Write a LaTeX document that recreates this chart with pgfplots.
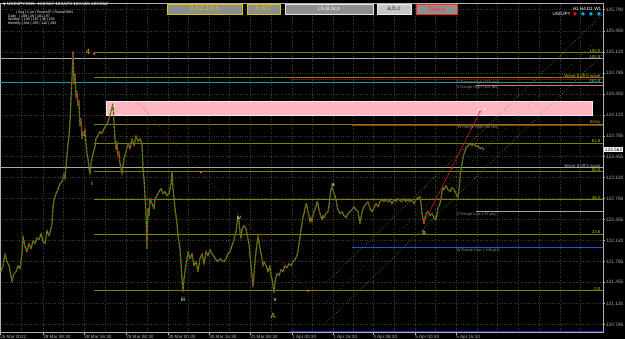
\documentclass[border=0pt]{standalone}
\usepackage{pgfplots}
\pgfplotsset{compat=1.18}
\usepackage{pgfplotstable}
\usepackage{fontspec}
\setmainfont{Liberation Sans}
\newfontfamily\dejavu{DejaVu Sans}
\definecolor{olv}{HTML}{808000}
\definecolor{olvtxt}{HTML}{BDBD00}
\definecolor{gridc}{HTML}{3A3A3A}
\definecolor{axc}{HTML}{B0B0B0}
\definecolor{bull}{HTML}{1FB01F}
\definecolor{bear}{HTML}{C01E1E}
\definecolor{greyl}{HTML}{A8A8A8}
\definecolor{tealc}{HTML}{1E9A9A}
\definecolor{dred}{HTML}{800000}
\definecolor{salm}{HTML}{E07070}
\definecolor{brn}{HTML}{A0301E}
\definecolor{steel}{HTML}{8CA8B8}
\definecolor{wblue}{HTML}{2F4FE0}
\definecolor{mblue}{HTML}{2030C0}
\definecolor{pinkb}{HTML}{FFB6C1}
\definecolor{chan}{HTML}{2EB82E}
\definecolor{yel}{HTML}{D8C800}
\definecolor{txtg}{HTML}{8C8C8C}
\definecolor{btn}{HTML}{8E8E8E}
\pgfplotstableread{
x p
1 121.624
3 121.719
5 121.910
7 121.783
9 121.719
11 121.560
12 121.465
14 121.592
16 121.624
18 121.719
20 121.672
22 121.910
23 122.180
25 122.021
27 121.942
29 122.069
31 121.990
33 122.117
35 122.069
37 122.164
39 122.133
41 122.228
43 122.101
45 122.069
47 122.276
49 122.196
51 122.308
52 122.387
53 122.657
54 122.769
56 122.864
58 122.928
60 123.023
62 123.055
64 123.182
65 123.103
66 123.309
67 123.468
68 123.659
69 123.786
70 124.009
71 124.375
72 124.693
73 125.122
74 124.613
75 124.772
76 124.406
77 124.486
78 124.263
79 124.327
80 123.945
81 124.057
82 123.739
83 123.850
84 123.786
85 123.882
86 123.659
87 123.500
88 123.421
89 123.262
90 123.182
91 123.341
93 123.500
95 123.611
96 123.739
98 123.786
100 123.850
102 123.818
104 123.898
106 123.945
108 124.009
110 124.104
112 124.231
113 124.295
114 123.977
115 123.739
116 123.580
117 123.691
118 123.468
119 123.532
120 123.341
121 123.262
122 123.182
123 123.309
124 123.421
126 123.532
128 123.659
130 123.580
132 123.739
134 123.627
136 123.786
138 123.691
140 123.739
142 123.659
143 123.262
144 123.103
145 122.832
146 122.546
147 121.990
148 122.626
149 122.514
150 122.785
152 122.705
154 122.626
155 122.785
157 122.832
159 122.896
161 122.944
163 122.864
165 122.896
167 122.832
169 122.864
171 123.023
172 123.214
173 122.944
174 122.785
175 122.626
176 122.514
177 122.387
178 122.196
180 121.990
181 121.751
182 121.513
183 121.306
184 121.513
185 121.624
187 121.831
188 121.942
190 121.831
192 121.910
194 121.719
196 121.783
198 121.624
200 121.831
202 121.910
204 121.751
206 121.942
208 121.878
210 121.974
212 121.910
214 121.862
216 121.815
218 121.783
220 121.831
222 121.799
224 121.783
226 121.831
228 121.910
230 121.942
232 122.037
234 122.133
236 122.260
237 122.387
238 122.482
239 122.419
240 122.260
241 122.164
242 122.292
244 122.355
246 122.308
247 122.228
248 122.149
249 122.069
250 121.878
251 121.719
252 121.560
253 121.385
254 121.592
255 121.783
256 121.942
257 122.069
258 122.196
259 122.101
260 121.990
262 121.831
263 121.719
264 121.783
266 121.719
268 121.624
270 121.719
271 121.560
272 121.513
273 121.401
274 121.290
275 121.465
277 121.592
279 121.560
281 121.656
283 121.624
285 121.719
287 121.687
289 121.751
291 121.719
293 121.783
295 121.815
297 121.878
298 121.958
299 122.069
300 122.164
301 122.292
302 122.387
303 122.482
304 122.546
305 122.626
306 122.705
307 122.673
308 122.578
309 122.514
310 122.419
311 122.482
312 122.419
313 122.514
314 122.578
316 122.657
317 122.737
318 122.705
319 122.610
320 122.546
322 122.451
323 122.514
324 122.482
326 122.546
328 122.578
329 122.673
330 122.832
331 122.928
332 122.975
333 122.928
334 122.864
335 122.832
336 122.769
337 122.673
338 122.610
340 122.546
342 122.578
344 122.514
346 122.482
348 122.546
350 122.578
352 122.610
354 122.657
356 122.610
358 122.578
359 122.482
360 122.387
361 122.482
362 122.578
364 122.657
366 122.705
368 122.737
370 122.626
372 122.578
374 122.641
376 122.705
378 122.657
380 122.737
382 122.769
384 122.737
386 122.769
388 122.737
390 122.753
392 122.705
394 122.769
396 122.737
398 122.785
400 122.753
402 122.737
404 122.785
406 122.737
408 122.769
410 122.737
412 122.769
414 122.705
416 122.769
418 122.800
420 122.816
421 122.705
422 122.546
423 122.467
424 122.403
425 122.482
426 122.546
428 122.578
430 122.514
432 122.546
434 122.482
436 122.451
437 122.546
438 122.641
440 122.705
441 122.800
442 122.896
443 122.959
444 122.928
446 122.991
448 122.928
450 122.896
452 122.959
454 122.928
456 122.864
458 122.800
459 122.928
460 123.118
461 123.246
462 123.341
463 123.436
464 123.500
465 123.532
466 123.595
468 123.627
470 123.659
472 123.627
474 123.659
476 123.611
478 123.627
480 123.580
482 123.595
484 123.564
}\price
\begin{document}
\begin{tikzpicture}[x=1pt,y=1pt]
\fill[black] (0,0) rectangle (625,339);
\useasboundingbox (0,0) rectangle (625,339);
\begin{axis}[
  at={(0,10)}, anchor=south west,
  scale only axis, width=603pt, height=329pt,
  xmin=0, xmax=603, ymin=120.654, ymax=125.885,
  clip=false,
  axis line style={draw=axc, line width=0.5pt},
  tick style={draw=axc, line width=0.4pt},
  tick align=outside, major tick length=2pt, minor tick length=0pt,
  xtick pos=bottom, ytick pos=right, yticklabel pos=right,
  xtick={0,43,84,126,168,209,250,292,333,373,415,456},
  xticklabels={25 Mar 2022,28 Mar 08:30,28 Mar 16:30,29 Mar 08:30,30 Mar 00:30,30 Mar 16:30,31 Mar 08:30,1 Apr 00:30,1 Apr 16:30,4 Apr 08:30,5 Apr 00:30,5 Apr 16:30},
  xticklabel style={anchor=north west, font=\fontsize{4.6}{5}\selectfont, text=axc, inner sep=0.6pt, xshift=-0.5pt},
  minor xtick={21.5,63.5,105,147,188.5,229.5,271,312.5,353,394,435.5,477,497,518,539,560,580},
  ytick={120.785,121.120,121.455,121.785,122.120,122.455,122.785,123.120,123.455,123.785,124.120,124.450,124.785,125.120,125.450,125.790},
  yticklabels={120.785,121.120,121.455,121.785,122.120,122.455,122.785,123.120,123.455,123.785,124.120,124.450,124.785,125.120,125.450,125.790},
  yticklabel style={anchor=west, font=\fontsize{4.8}{5}\selectfont, text=axc, inner sep=0.8pt},
  xmajorgrids, xminorgrids, ymajorgrids,
  major grid style={gridc, dotted, line width=0.4pt},
  minor grid style={gridc, dotted, line width=0.4pt},
]
% horizontal levels
\addplot[greyl, line width=0.6pt] coordinates {(0,125.011) (603,125.011)};
\addplot[olv, line width=0.6pt] coordinates {(94,125.106) (603,125.106)};
\addplot[olv, line width=0.6pt] coordinates {(94,124.709) (603,124.709)};
\addplot[dred, line width=0.6pt] coordinates {(290,124.677) (603,124.677)};
\addplot[tealc, line width=0.6pt] coordinates {(0,124.629) (603,124.629)};
\addplot[salm, line width=0.6pt] coordinates {(476,124.581) (603,124.581)};
\addplot[olv, line width=0.6pt] coordinates {(94,123.961) (603,123.961)};
\addplot[brn, line width=0.6pt] coordinates {(352,123.955) (603,123.955)};
\addplot[olv, line width=0.6pt] coordinates {(94,123.661) (603,123.661)};
\addplot[greyl, line width=0.6pt] coordinates {(0,123.278) (603,123.278)};
\addplot[olv, line width=0.6pt] coordinates {(94,123.214) (603,123.214)};
\addplot[olv, line width=0.6pt] coordinates {(94,122.768) (603,122.768)};
\addplot[steel, line width=0.6pt] coordinates {(476,122.578) (603,122.578)};
\addplot[olv, line width=0.6pt] coordinates {(94,122.215) (603,122.215)};
\addplot[wblue, line width=0.7pt] coordinates {(352,122.006) (603,122.006)};
\addplot[olv, line width=0.6pt] coordinates {(94,121.322) (603,121.322)};
\addplot[mblue, line width=0.7pt] coordinates {(290,120.672) (603,120.672)};
% pink zone
\addplot[fill=pinkb, draw=white!85!gray, line width=0.6pt] coordinates {(106,124.327) (592,124.327) (592,124.104) (106,124.104)} --cycle;
% channel
\addplot[chan, dotted, line width=0.6pt] coordinates {(327,121.465) (603,125.722)};
\addplot[chan!80!black, loosely dotted, line width=0.6pt] coordinates {(327,121.147) (603,125.404)};
\addplot[chan, dotted, line width=0.6pt] coordinates {(327,120.829) (603,125.086)};
% price
\addplot[bull, line width=1.1pt, line join=round] table[x=x, y=p] {\price};
\addplot[bear, line width=1.1pt, dash pattern=on 1.8pt off 2.2pt] table[x=x, y=p] {\price};
% wave lines
\addplot[bear, dotted, line width=0.5pt] coordinates {(94,125.090) (308,121.322)};
\addplot[bear, line width=0.6pt] coordinates {(424,122.403) (480,124.168)};
\addplot[only marks, mark=*, mark size=0.8pt, color=orange!80!red] coordinates {(94,125.090) (201,123.206) (308,121.322)};
\addplot[only marks, mark=*, mark size=0.8pt, color=red!80!white] coordinates {(424,122.403) (452,123.277) (480,124.168)};
% wave labels
\node[text=yel, font=\fontsize{7.5}{8}\selectfont] at (axis cs:88,125.122) {4};
\node[text=yel, font=\fontsize{7.5}{8}\selectfont] at (axis cs:273,120.924) {A};
\node[text=white, font=\fontsize{6}{6}\selectfont] at (axis cs:114,124.263) {ii};
\node[text=white, font=\fontsize{6}{6}\selectfont] at (axis cs:92,123.023) {i};
\node[text=white, font=\fontsize{6}{6}\selectfont] at (axis cs:183,121.179) {iii};
\node[text=white, font=\fontsize{6}{6}\selectfont] at (axis cs:239,122.482) {iv};
\node[text=white, font=\fontsize{6}{6}\selectfont] at (axis cs:275,121.179) {v};
\node[text=white, font=\fontsize{6}{6}\selectfont] at (axis cs:333,123.007) {a};
\node[text=white, font=\fontsize{6}{6}\selectfont] at (axis cs:424,122.244) {b};
\node[text=white, font=\fontsize{6}{6}\selectfont] at (axis cs:482,124.184) {c ?};
% right level labels
\tikzset{rl/.style={anchor=south east, inner sep=0.4pt, font=\fontsize{4.4}{5}\selectfont}}
\node[rl, text=olvtxt] at (axis cs:601,125.106) {100.0};
\node[rl, text=greyl] at (axis cs:601,125.011) {100.0};
\node[rl, text=olvtxt] at (axis cs:601,124.709) {Wave 8 off 5 wave};
\node[rl, text=tealc!80!white] at (axis cs:601,124.629) {261.8};
\node[rl, text=olvtxt] at (axis cs:601,123.961) {Entry};
\node[rl, text=olvtxt] at (axis cs:601,123.661) {61.8};
\node[rl, text=greyl] at (axis cs:601,123.278) {Wave 8 off 5 wave};
\node[rl, text=olvtxt] at (axis cs:601,123.214) {50.0};
\node[rl, text=olvtxt] at (axis cs:601,122.768) {38.2};
\node[rl, text=olvtxt] at (axis cs:601,122.215) {23.6};
\node[rl, text=olvtxt] at (axis cs:601,121.322) {0.0};
% range labels
\tikzset{gl/.style={anchor=west, inner sep=0.3pt, text=txtg, font=\fontsize{4}{4.5}\selectfont}}
\node[gl] at (axis cs:456,124.629) {M Range High (160 pts)};
\node[gl] at (axis cs:456,124.550) {D Range High (101 pts)};
\node[gl] at (axis cs:457,123.915) {W Range High (38 pts)};
\node[gl] at (axis cs:456,122.530) {D Range Low (-97 pts)};
\node[gl] at (axis cs:456,121.960) {W Range Low (-156 pts)};
% current price
\node[anchor=west, fill=white, text=black, inner sep=0.7pt, font=\fontsize{4.8}{5}\selectfont] at (axis cs:604,123.562) {123.562};
\end{axis}
% header text
\node[anchor=west, text=white, inner sep=0pt, font=\fontsize{4.6}{5}\selectfont] at (3,335) {{\dejavu\fontsize{3.5}{4}\selectfont ▼} USDJPY,M15\ \ 123.567 123.573 123.555 123.562};
\begin{scope}[every node/.style={anchor=west, text=white, inner sep=0pt, font=\fontsize{3.6}{4}\selectfont}]
\node at (8,326) {\ \ \ \ \ \ \ \ | Avg | Curr | RoomUP | RoomDWN};
\node at (8,322.5) {Daily\ \ \ | 109 | 26 | 101 | 97};
\node at (8,319) {Weekly\ \ | 194 | 187 | 38 | 156};
\node at (8,315.5) {Monthly | 364 | 265 | 110 | 292};
\end{scope}
% buttons
\tikzset{bt/.style={draw=#1, fill=btn, line width=0.5pt}}
\draw[bt=yel] (167,325) rectangle (242,335);
\node[text=yel, font=\fontsize{6.2}{7}\selectfont] at (204.5,330) {0,1,2,3,4,5};
\draw[bt=yel] (247,325) rectangle (280,335);
\node[text=yel, font=\fontsize{6.2}{7}\selectfont] at (263.5,330) {A,B,C};
\draw[bt=white!80!gray] (285,325) rectangle (373,335);
\node[text=white, font=\fontsize{6.2}{7}\selectfont] at (329,330) {i,ii,iii,iv,v};
\draw[draw=white!85!gray, fill=gray!45!white, line width=0.5pt] (377,325) rectangle (411,335);
\node[text=black!80, font=\fontsize{6.2}{7}\selectfont] at (394,330) {a,b,c};
\draw[bt=red!80!pink] (416,325) rectangle (457,335);
\node[text=red!70!pink, font=\fontsize{6.2}{7}\selectfont] at (436.5,330) {Delete};
% timeframe indicator
\node[anchor=south, text=white, inner sep=0pt, font=\fontsize{4.6}{5}\selectfont] at (587,328) {H1 H4 D1 W1};
\node[anchor=east, text=white, inner sep=0pt, font=\fontsize{4.6}{5}\selectfont] at (571,325) {USDJPY};
\node[text=red, inner sep=0pt, font=\dejavu\fontsize{4.5}{5}\selectfont] at (575,325) {●};
\node[text=cyan, inner sep=0pt, font=\dejavu\fontsize{4.5}{5}\selectfont] at (583,325) {●};
\node[text=cyan, inner sep=0pt, font=\dejavu\fontsize{4.5}{5}\selectfont] at (591,325) {●};
\node[text=cyan, inner sep=0pt, font=\dejavu\fontsize{4.5}{5}\selectfont] at (599,325) {●};
\end{tikzpicture}
\end{document}
